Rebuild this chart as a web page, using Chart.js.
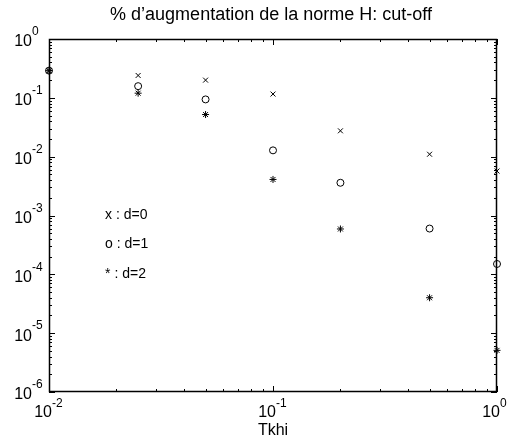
<!DOCTYPE html>
<html>
<head>
<meta charset="utf-8">
<script src="https://cdn.jsdelivr.net/npm/chart.js@4/dist/chart.umd.min.js"></script>
<style>
  body { margin: 0; background: #fff; }
</style>
</head>
<body>
<canvas id="myChart" width="507" height="440"></canvas>
<script>
// Tkhi values (x axis)
const tkhi = [0.01, 0.025, 0.05, 0.1, 0.2, 0.5, 1];
// % increase of norm H, one array per d
const d0 = [0.29, 0.24, 0.2, 0.116, 0.0275, 0.011, 0.0057];
const d1 = [0.29, 0.158, 0.094, 0.0128, 0.0036, 0.0006, 0.00015];
const d2 = [0.29, 0.12, 0.052, 0.0041, 0.00059, 0.00004, 0.0000051];

const xExps = [-2, -1, 0];
const yExps = [-6, -5, -4, -3, -2, -1, 0];

const noteLabels = ["x : d=0", "o : d=1", "* : d=2"];
const noteX = 0.0178;
const noteY = [1e-3, 3.2e-4, 1e-4];

const titleText = "% d\u2019augmentation de la norme H: cut-off";
const xTitle = "Tkhi";

function pts(ys) {
    return tkhi.map((x, i) => ({x: x, y: ys[i]}));
}

const FONT = "Arial, 'Liberation Sans', sans-serif";

// box, inward ticks, labels with exponents
const matlabAxes = {
    id: "matlabAxes",
    afterDraw(chart) {
        const ctx = chart.ctx;
        const a = chart.chartArea;
        const xs = chart.scales.x, ys = chart.scales.y;
        ctx.save();
        ctx.strokeStyle = "#000";
        ctx.fillStyle = "#000";
        ctx.lineWidth = 1;

        // ticks
        ctx.beginPath();
        for (let e = -2; e <= 0; e++) {
            for (let m = 1; m <= 9; m++) {
                const v = m * Math.pow(10, e);
                if (v > 1.0001) break;
                const px = Math.round(xs.getPixelForValue(v)) + 0.5;
                const len = m === 1 ? 6 : 3;
                ctx.moveTo(px, a.bottom); ctx.lineTo(px, a.bottom - len);
                ctx.moveTo(px, a.top); ctx.lineTo(px, a.top + len);
            }
        }
        for (let e = -6; e <= 0; e++) {
            for (let m = 1; m <= 9; m++) {
                const v = m * Math.pow(10, e);
                if (v > 1.0001) break;
                const py = Math.round(ys.getPixelForValue(v)) + 0.5;
                const len = m === 1 ? 6 : 3;
                ctx.moveTo(a.left, py); ctx.lineTo(a.left + len, py);
                ctx.moveTo(a.right, py); ctx.lineTo(a.right - len, py);
            }
        }
        ctx.stroke();

        // frame
        ctx.lineWidth = 1.5;
        ctx.strokeRect(Math.round(a.left) + 0.5, Math.round(a.top) + 0.5,
            Math.round(a.right - a.left) - 1, Math.round(a.bottom - a.top) - 1);

        // y tick labels
        ctx.textBaseline = "middle";
        yExps.forEach(e => {
            const py = ys.getPixelForValue(Math.pow(10, e));
            ctx.font = "16px " + FONT;
            ctx.textAlign = "right";
            ctx.fillText("10", 32, py + 3);
            ctx.font = "12px " + FONT;
            ctx.textAlign = "left";
            ctx.fillText(String(e), 32, py - 7);
        });

        // x tick labels
        xExps.forEach(e => {
            const px = xs.getPixelForValue(Math.pow(10, e));
            ctx.font = "16px " + FONT;
            ctx.textAlign = "right";
            ctx.fillText("10", px + 3, a.bottom + 21);
            ctx.font = "12px " + FONT;
            ctx.textAlign = "left";
            ctx.fillText(String(e), px + 3, a.bottom + 12);
        });

        // axis title and chart title
        ctx.textAlign = "center";
        ctx.font = "16px " + FONT;
        ctx.fillText(xTitle, (a.left + a.right) / 2, a.bottom + 39);
        ctx.font = "18px " + FONT;
        ctx.fillText(titleText, 271, 15);

        // notes inside the plot
        ctx.textAlign = "left";
        ctx.font = "14px " + FONT;
        noteLabels.forEach((t, i) => {
            ctx.fillText(t, xs.getPixelForValue(noteX), ys.getPixelForValue(noteY[i]));
        });
        ctx.restore();
    }
};

new Chart("myChart", {
    type: "scatter",
    data: {
        datasets: [{
            label: "d=0",
            data: pts(d0),
            pointStyle: "crossRot",
            pointRadius: 3.5,
            borderColor: "#000",
            borderWidth: 1
        }, {
            label: "d=1",
            data: pts(d1),
            pointStyle: "circle",
            pointRadius: 3.5,
            borderColor: "#000",
            backgroundColor: "rgba(0,0,0,0)",
            borderWidth: 1
        }, {
            label: "d=2",
            data: pts(d2),
            pointStyle: "star",
            pointRadius: 3.5,
            borderColor: "#000",
            borderWidth: 1
        }]
    },
    options: {
        responsive: false,
        animation: false,
        clip: false,
        layout: {padding: {left: 49, right: 10, top: 39, bottom: 48}},
        plugins: {
            legend: {display: false},
            tooltip: {enabled: false},
            title: {display: false}
        },
        scales: {
            x: {type: "logarithmic", min: 0.01, max: 1, display: false},
            y: {type: "logarithmic", min: 1e-6, max: 1, display: false}
        }
    },
    plugins: [matlabAxes]
});
</script>
</body>
</html>
